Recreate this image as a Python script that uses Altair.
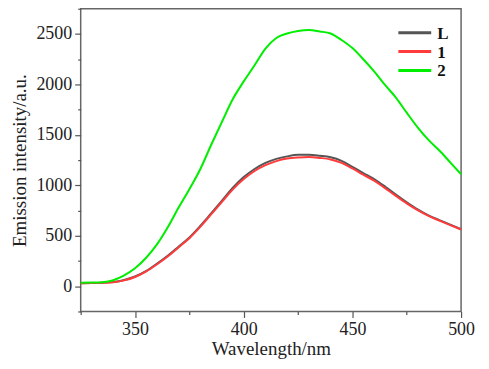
import altair as alt
import pandas as pd

wavelength = list(range(325, 505, 5))
series_L = [30, 32, 35, 42, 62, 97, 150, 222, 302, 392, 484, 598, 722, 848, 976, 1082,
            1162, 1222, 1262, 1287, 1302, 1303, 1293, 1278, 1243, 1183, 1122, 1062, 988, 908,
            832, 762, 702, 656, 611, 565]
series_1 = [30, 31, 34, 40, 58, 92, 145, 215, 295, 385, 476, 588, 712, 836, 960, 1062,
            1142, 1200, 1240, 1265, 1276, 1281, 1272, 1257, 1222, 1167, 1106, 1046, 972, 896,
            822, 754, 697, 651, 606, 562]
series_2 = [35, 36, 40, 60, 108, 178, 280, 412, 582, 778, 962, 1160, 1400, 1630, 1855, 2030,
            2190, 2355, 2460, 2505, 2530, 2540, 2525, 2505, 2440, 2360, 2250, 2130, 1995, 1870,
            1720, 1575, 1450, 1345, 1228, 1110]
names = ["L", "1", "2"]
colors = ["#555555", "#ff3b3b", "#00ee00"]

rows = []
for name, vals in zip(names, [series_L, series_1, series_2]):
    for w, v in zip(wavelength, vals):
        rows.append({"w": w, "v": v, "s": name, "o": names.index(name)})
df = pd.DataFrame(rows)

font = "Liberation Serif, Times New Roman, serif"

color_scale = alt.Scale(domain=names, range=colors)

lines = alt.Chart(df).mark_line(strokeWidth=2, interpolate="monotone").encode(
    x=alt.X("w:Q", scale=alt.Scale(domain=[325, 500], nice=False, zero=False),
            axis=alt.Axis(title="Wavelength/nm", values=list(range(325, 501, 25)), format="d",
                          labelExpr="datum.value % 50 === 0 && datum.value > 325 ? datum.label : ''",
                          tickSize={"condition": {"test": "datum.value % 50 === 0", "value": 6}, "value": 3},
                          grid=False, domain=False, labelFlush=False)),
    y=alt.Y("v:Q", scale=alt.Scale(domain=[-250, 2750], nice=False, zero=False),
            axis=alt.Axis(title="Emission intensity/a.u.", values=list(range(-250, 2751, 250)), format="d",
                          labelExpr="datum.value % 500 === 0 && datum.value >= 0 ? datum.label : ''",
                          tickSize={"condition": {"test": "datum.value % 500 === 0", "value": 6}, "value": 3},
                          grid=False, domain=False, labelFlush=False)),
    color=alt.Color("s:N", scale=color_scale, legend=None),
    order=alt.Order("o:Q"),
)

# manual legend (compact rows as in the reference)
legend_layers = []
for i, (name, col) in enumerate(zip(names, colors)):
    ly = 24 + i * 19
    legend_layers.append(
        alt.Chart(pd.DataFrame({"s": [name]})).mark_rule(strokeWidth=3, color=col).encode(
            x=alt.value(319), x2=alt.value(352), y=alt.value(ly))
    )
    legend_layers.append(
        alt.Chart(pd.DataFrame({"s": [name]})).mark_text(
            font=font, fontWeight="bold", fontSize=17, align="left", baseline="middle",
            color="#111111").encode(x=alt.value(358), y=alt.value(ly + 1), text="s:N")
    )

chart = alt.layer(lines, *legend_layers).properties(
    width=382, height=304,
    autosize=alt.AutoSizeParams(type="none"),
    padding={"left": 73, "top": 0, "right": 20, "bottom": 55},
).configure_view(
    stroke="#666666", strokeWidth=1.5
).configure_axis(
    labelFont=font, titleFont=font, labelFontSize=18, titleFontSize=19,
    titleFontWeight="normal", labelColor="#222222", titleColor="#222222",
    tickColor="#555555", tickWidth=1.2, labelPadding=3,
).configure_axisY(
    titlePadding=6
).configure_axisX(
    titlePadding=1
)

chart.save("out.html", embed_options={"renderer": "svg", "actions": False})
